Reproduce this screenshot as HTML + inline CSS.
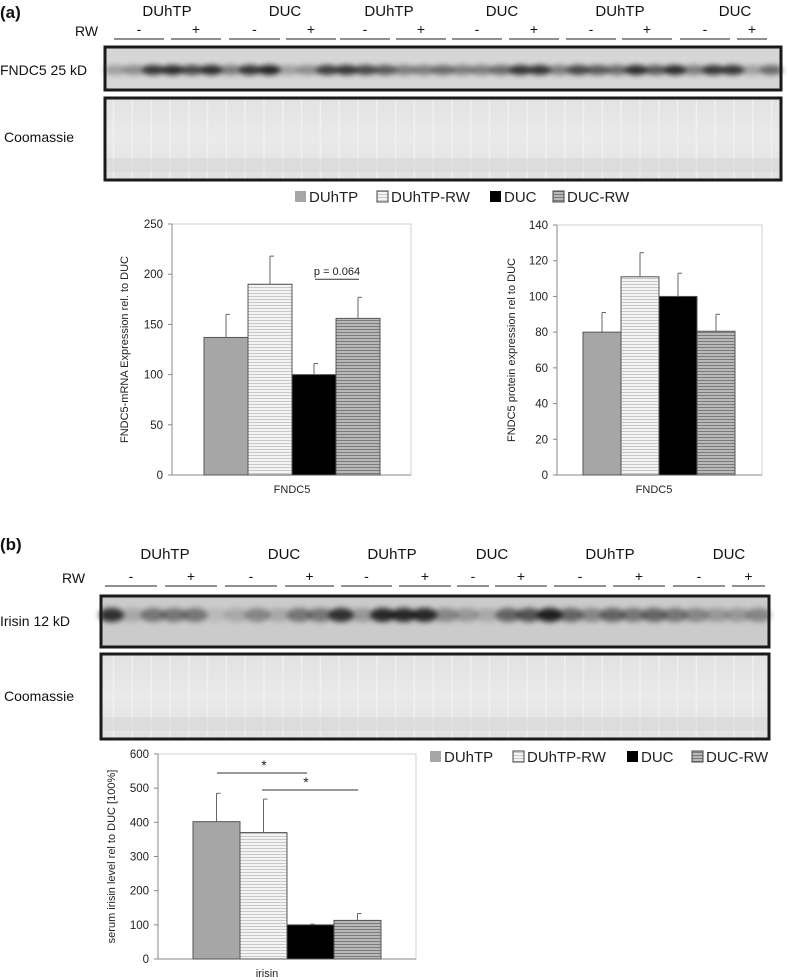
<!DOCTYPE html>
<html><head><meta charset="utf-8">
<style>
html,body{margin:0;padding:0;background:#fff;}
svg{display:block;font-family:"Liberation Sans",sans-serif;}
</style></head>
<body>
<svg id="fig" width="787" height="980" viewBox="0 0 787 980" xmlns="http://www.w3.org/2000/svg">
<defs>
 <pattern id="pLight" width="4" height="3" patternUnits="userSpaceOnUse"><rect width="4" height="3" fill="#f4f4f4"/><rect y="2" width="4" height="1" fill="#c8c8c8"/></pattern>
 <pattern id="pDark" width="4" height="3" patternUnits="userSpaceOnUse"><rect width="4" height="3" fill="#b8b8b8"/><rect y="2" width="4" height="1" fill="#7a7a7a"/></pattern>
 <linearGradient id="coom" x1="0" y1="0" x2="0" y2="1"><stop offset="0" stop-color="#e2e2e2"/><stop offset="0.5" stop-color="#eaeaea"/><stop offset="1" stop-color="#e0e0e0"/></linearGradient>
 <pattern id="lanes" width="18.8" height="10" patternUnits="userSpaceOnUse"><rect x="0" width="1.5" height="10" fill="#f6f6f6" opacity="0.6"/></pattern>
 <filter id="blur" x="-50%" y="-50%" width="200%" height="200%"><feGaussianBlur stdDeviation="2.6"/></filter>
</defs>
<g id="blots"></g>
<g id="charts"></g>
</svg>
<script>
// ---- chart data ----
const groups = ["DUhTP","DUhTP-RW","DUC","DUC-RW"];
const mrnaValues = [137, 190, 100, 156];
const mrnaErrors = [23, 28, 11, 21];
const mrnaTicks = [0,50,100,150,200,250];
const protValues = [80, 111, 100, 80.5];
const protErrors = [11, 13.5, 13, 9.5];
const protTicks = [0,20,40,60,80,100,120,140];
const irisinValues = [402, 370, 100, 113];
const irisinErrors = [83, 98, 2, 20];
const irisinTicks = [0,100,200,300,400,500,600];
const blotAIntensity = [0.3,0.4,0.9,0.95,0.8,0.95,0.5,0.9,1,0.3,0.4,0.85,0.9,0.8,0.7,0.5,0.5,0.6,0.5,0.5,0.6,0.9,0.9,0.5,0.8,0.7,0.6,0.95,0.7,0.95,0.5,0.9,0.9,0.3,0.6];
const blotBIntensity = [0.9,0.2,0.5,0.5,0.5,0.1,0.2,0.4,0.2,0.5,0.5,0.9,0.3,0.95,0.95,0.95,0.4,0.3,0.2,0.6,0.7,1,0.6,0.4,0.6,0.5,0.6,0.5,0.4,0.3,0.3,0.4];

const NS="http://www.w3.org/2000/svg";
function mk(parent,tag,attrs,text){const e=document.createElementNS(NS,tag);for(const k in attrs)e.setAttribute(k,attrs[k]);if(text!==undefined)e.textContent=text;parent.appendChild(e);return e;}
const fills=["#a6a6a6","url(#pLight)","#000","url(#pDark)"];

// ---- blots ----
const B=document.getElementById('blots');
function txt(x,y,s,size,anchor,name,weight){const t=mk(B,'text',{x:x,y:y,'font-size':size,'text-anchor':anchor||'start','font-weight':weight||'normal',fill:'#111'},s);

return t;}
txt(0,18,"(a)",17,'start','panel-a-label','bold');
txt(0,550,"(b)",17,'start','panel-b-label','bold');
const headA=[167,285,389,502,620,735], headB=[165,284,392,492,610,729];
headA.forEach((x,i)=>txt(x,16,i%2?"DUC":"DUhTP",15,'middle','group-header-a'));
headB.forEach((x,i)=>txt(x,559,i%2?"DUC":"DUhTP",15,'middle','group-header-b'));
txt(75,36,"RW",14,'start','rw-label-a');
txt(62,583,"RW",14,'start','rw-label-b');
const segA=[[114,164],[171,221],[229,280],[286,336],[340,390],[396,446],[452,502],[509,559],[566,616],[622,672],[680,730],[737,767]];
const segB=[[105,157],[165,217],[225,277],[285,334],[341,392],[399,451],[457,489],[495,547],[554,606],[613,665],[673,725],[732,765]];
function segs(list,y){list.forEach((s,i)=>{const l=mk(B,'line',{x1:s[0],x2:s[1],y1:y,y2:y,stroke:'#222','stroke-width':1});


txt((s[0]+s[1])/2,y-5,i%2?"+":"-",14,'middle','rw-sign');});}
segs(segA,39);segs(segB,586);
txt(0,75,"FNDC5 25 kD",14,'start','fndc5-band-label');
txt(4,142,"Coomassie",14,'start','coomassie-label-a');
txt(0,626,"Irisin 12 kD",14,'start','irisin-band-label');
txt(4,701,"Coomassie",14,'start','coomassie-label-b');
function blot(x,y,w,h,bg,ints,by,bh,name){
 const g=mk(B,'g',{});
 
 
 mk(g,'rect',{x:x,y:y,width:w,height:h,fill:bg});
 const lw=w/ints.length;
 const gb=mk(g,'g',{filter:'url(#blur)'});
 ints.forEach((v,i)=>{mk(gb,'ellipse',{cx:x+lw*(i+0.5),cy:by,rx:lw*0.6,ry:bh,fill:'#000',opacity:v*0.85});});
 mk(g,'rect',{x:x,y:y,width:w,height:h,fill:'none',stroke:'#1a1a1a','stroke-width':3});
}
function coom(x,y,w,h,name){
 const g=mk(B,'g',{});
 
 
 mk(g,'rect',{x:x,y:y,width:w,height:h,fill:'url(#coom)'});
 mk(g,'rect',{x:x,y:y,width:w,height:h,fill:'url(#lanes)'});
 mk(g,'rect',{x:x,y:y+h-22,width:w,height:14,fill:'#d6d6d6',opacity:0.5});
 mk(g,'rect',{x:x,y:y,width:w,height:h,fill:'none',stroke:'#1a1a1a','stroke-width':3});
}
blot(105,47,676,43,'#d6d6d6',blotAIntensity,70,5,'fndc5-blot');
coom(105,98,676,82,'coomassie-blot-a');
blot(101,596,668,51,'#cbcbcb',blotBIntensity,615,7,'irisin-blot');
coom(101,654,668,85,'coomassie-blot-b');

// ---- charts ----
const C=document.getElementById('charts');
function legend(x0,y,xs,name){
 const g=mk(C,'g',{});
 
 
 groups.forEach((n,i)=>{
  const r=mk(g,'rect',{x:xs[i],y:y-6,width:11,height:11,fill:fills[i],stroke:i==1||i==3?'#444':'none','stroke-width':1});
  
  const t=mk(g,'text',{x:xs[i]+14,y:y+5,'font-size':15,fill:'#222'},n);
  
  
 });
}
legend(0,197,[295,377,490,553],'legend-a');
legend(0,757,[430,513,627,692],'legend-b');

function chart(o){
 const g=mk(C,'g',{});
 
 
 const max=o.ticks[o.ticks.length-1];
 const yS=v=>o.bottom-(v/max)*(o.bottom-o.top);
 mk(g,'rect',{x:o.left,y:o.top,width:o.right-o.left,height:o.bottom-o.top,fill:'none',stroke:'#d0d0d0'});
 mk(g,'line',{x1:o.left,x2:o.left,y1:o.top,y2:o.bottom,stroke:'#888'});
 mk(g,'line',{x1:o.left,x2:o.right,y1:o.bottom,y2:o.bottom,stroke:'#888'});
 o.ticks.forEach(t=>{const yy=yS(t);mk(g,'line',{x1:o.left-4,x2:o.left,y1:yy,y2:yy,stroke:'#888'});
  const tl=mk(g,'text',{x:o.left-9,y:yy+4,'font-size':11.5,'text-anchor':'end',fill:'#222'},t);
  
  });
 const bw=o.bw;
 o.values.forEach((v,i)=>{
  const x=o.x0+i*bw, yy=yS(v), ye=yS(v+o.errors[i]);
  const b=mk(g,'rect',{x:x,y:yy,width:bw,height:o.bottom-yy,fill:fills[i],stroke:'#555','stroke-width':1});
  
  
  const e=mk(g,'line',{x1:x+bw/2,x2:x+bw/2,y1:yy,y2:ye,stroke:'#666'});
  
  mk(g,'line',{x1:x+bw/2,x2:x+bw/2+4,y1:ye,y2:ye,stroke:'#666'});
 });
 const xl=mk(g,'text',{x:o.xl,y:o.bottom+18,'font-size':11,'text-anchor':'middle',fill:'#222'},o.xlabel);
 
 
 const cy=(o.top+o.bottom)/2;
 const yl=mk(g,'text',{x:o.ylx,y:cy,'font-size':11,'text-anchor':'middle',fill:'#222',transform:`rotate(-90 ${o.ylx} ${cy})`},o.ylabel);
 
 
 return {g,yS,bw};
}
const c1=chart({name:'mrna-chart',left:172,right:411,top:224,bottom:475,x0:204,bw:44,ticks:mrnaTicks,values:mrnaValues,errors:mrnaErrors,xlabel:'FNDC5',xl:292,ylabel:'FNDC5-mRNA Expression rel. to DUC',ylx:128});
const sl=mk(c1.g,'line',{x1:315,x2:359,y1:c1.yS(195),y2:c1.yS(195),stroke:'#333'});

const pt=mk(c1.g,'text',{x:337,y:c1.yS(195)-4,'font-size':11,'text-anchor':'middle',fill:'#222'},'p = 0.064');


chart({name:'protein-chart',left:557,right:762,top:225,bottom:475,x0:583,bw:38,ticks:protTicks,values:protValues,errors:protErrors,xlabel:'FNDC5',xl:654,ylabel:'FNDC5 protein expression rel to DUC',ylx:515});
const c3=chart({name:'irisin-chart',left:158,right:416,top:754,bottom:959,x0:193,bw:47,ticks:irisinTicks,values:irisinValues,errors:irisinErrors,xlabel:'irisin',xl:267,ylabel:'serum irisin level rel to DUC [100%]',ylx:115});
[[217,307,773,264],[262,358,790,306]].forEach(s=>{
 const l=mk(c3.g,'line',{x1:s[0],x2:s[1],y1:s[2],y2:s[2],stroke:'#333'});
 
 const t=mk(c3.g,'text',{x:s[3],y:s[2]-3,'font-size':14,'text-anchor':'middle',fill:'#222'},'*');
 
 
});
</script>
</body></html>
